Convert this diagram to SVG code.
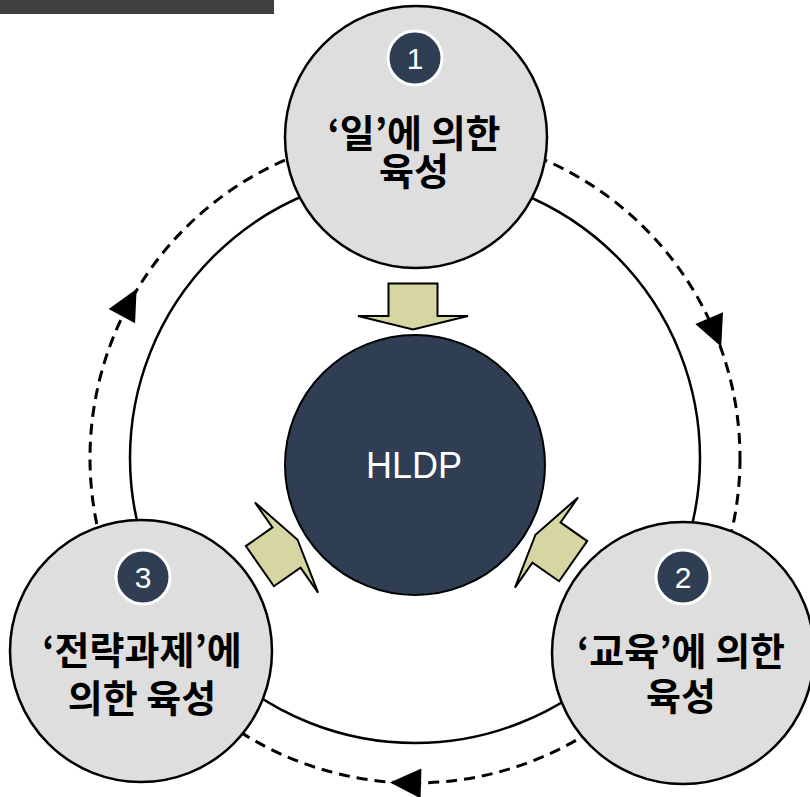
<svg xmlns="http://www.w3.org/2000/svg" xmlns:xlink="http://www.w3.org/1999/xlink" width="810" height="797" viewBox="0 0 810 797">
<style>
.node{fill:#dedede;stroke:#000;stroke-width:2.5}
.badge{fill:#2f3e52;stroke:#fff;stroke-width:3}
.num{font-family:"Liberation Sans",Arial,sans-serif;font-size:30px;fill:#fff;text-anchor:middle}
.lbl{font-family:"Noto Sans CJK KR","Liberation Sans",sans-serif;font-weight:700;font-size:38px;fill:#000;text-anchor:middle}
.ring{fill:none;stroke:#000;stroke-width:2.5}
.dash{fill:none;stroke:#000;stroke-width:3;stroke-dasharray:11 7}
.fat{fill:#d5d6a2;stroke:#000;stroke-width:2;stroke-linejoin:miter}
</style>
<defs>
<polygon id="fatArrow" points="-24.5,-32.5 24.5,-32.5 24.5,0 55,0 0,13.5 -55,0 -24.5,0"/>
<polygon id="head" points="16,0 -15,-15 -15,15"/>
</defs>
<rect x="0" y="0" width="274" height="14" fill="#404040"/>
<g id="connectors">
<circle class="dash" cx="415" cy="458" r="325"/>
<circle class="ring" cx="415" cy="458" r="285"/>
<use xlink:href="#head" href="#head" transform="translate(129,303) rotate(298.4)"/>
<use xlink:href="#head" href="#head" transform="translate(715,332) rotate(67.2)"/>
<use xlink:href="#head" href="#head" transform="translate(406,783) rotate(181.6)"/>
<use class="fat" xlink:href="#fatArrow" href="#fatArrow" transform="translate(413,316)"/>
<use class="fat" xlink:href="#fatArrow" href="#fatArrow" transform="translate(286.5,547.5) rotate(-125)"/>
<use class="fat" xlink:href="#fatArrow" href="#fatArrow" transform="translate(546.5,542.5) rotate(125)"/>
</g>
<g id="hldp">
<circle cx="415" cy="465" r="130" fill="#2f3e52" stroke="#000" stroke-width="2"/>
<text x="414" y="478" font-family="Liberation Sans,Arial,sans-serif" font-size="36" fill="#fff" text-anchor="middle">HLDP</text>
</g>
<g id="node1">
<circle class="node" cx="416" cy="137" r="131"/>
<circle class="badge" cx="415" cy="58" r="27"/>
<text class="num" x="415" y="69">1</text>
<text class="lbl"><tspan x="414" y="147">‘일’에 의한</tspan><tspan x="414" y="185">육성</tspan></text>
</g>
<g id="node2">
<circle class="node" cx="683" cy="653" r="131"/>
<circle class="badge" cx="683" cy="577" r="27"/>
<text class="num" x="683" y="588">2</text>
<text class="lbl"><tspan x="681" y="665">‘교육’에 의한</tspan><tspan x="681" y="710">육성</tspan></text>
</g>
<g id="node3">
<circle class="node" cx="141" cy="651" r="131"/>
<circle class="badge" cx="143" cy="577" r="27"/>
<text class="num" x="143" y="588">3</text>
<text class="lbl"><tspan x="142" y="664">‘전략과제’에</tspan><tspan x="142" y="712">의한 육성</tspan></text>
</g>
</svg>
